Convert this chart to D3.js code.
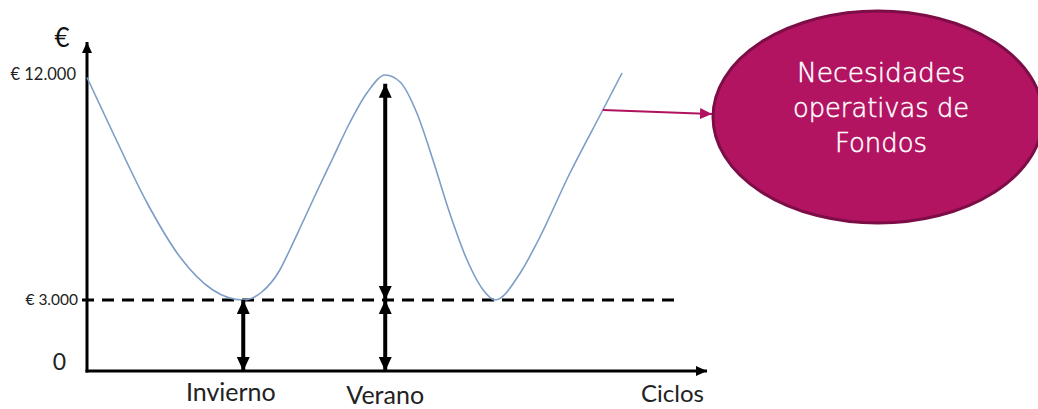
<!DOCTYPE html>
<html>
<head>
<meta charset="utf-8">
<script src="https://cdn.jsdelivr.net/npm/d3@7"></script>
<style>
  html, body { margin: 0; padding: 0; background: #ffffff; }
  svg { display: block; }
</style>
</head>
<body>
<svg id="chart" width="1038" height="409"></svg>
<script>
// ---- data ----
const cycleX = [0, 4.2, 9.7, 15, 20.3, 25.2, 28.1, 31.1, 32.7, 34.4, 37.1, 39.7, 42.4, 45.2, 48.1, 50.5, 53.2, 55.8, 58.5, 61.3, 63.9, 65.8, 69.8, 72.6, 77.9, 83.2, 86.3];
const needs  = [11900, 9680, 6880, 4720, 3400, 3000, 3300, 4200, 5000, 5900, 7350, 8700, 10100, 11300, 12000, 11720, 10480, 8600, 6480, 4600, 3400, 3000, 4050, 5300, 8080, 10600, 12080];
const yTickValues = [0, 3000, 12000];
const yTickLabels = ["0", "€ 3.000", "€ 12.000"];
const permanentLevel = 3000;
const seasonNames = ["Invierno", "Verano"];
const seasonX = [25.2, 48.1];
const seasonLabelX = [23.2, 48.1];
const arrowSpans = [[25.2, 0, 3000], [48.1, 3000, 11650], [48.1, 0, 3000]];
const xAxisTitle = "Ciclos";
const yAxisTitle = "€";
const calloutLines = ["Necesidades", "operativas de", "Fondos"];
const calloutAt = [83.2, 10600];

// ---- scales ----
const svg = d3.select("#chart");
const x = d3.scaleLinear().domain([0, 100]).range([87, 707]);
const y = d3.scaleLinear().domain([0, 3000, 12000]).range([371, 300, 75]);

const defs = svg.append("defs");
function marker(id, color, w, h) {
  defs.append("marker")
    .attr("id", id).attr("markerUnits", "userSpaceOnUse")
    .attr("viewBox", `0 0 ${h} ${w}`)
    .attr("refX", h).attr("refY", w / 2)
    .attr("markerWidth", h).attr("markerHeight", w)
    .attr("orient", "auto-start-reverse")
    .append("path").attr("d", `M0,0L${h},${w / 2}L0,${w}Z`).attr("fill", color);
}
marker("blk", "#000", 13, 14);
marker("axisHead", "#000", 10, 11);
marker("mag", "#b0125f", 11, 12);

const labelFont = "Lato, 'Open Sans', sans-serif";

// ---- axes ----
const axisY = d3.axisLeft(y).tickValues(yTickValues).tickSize(0).tickFormat((d, i) => yTickLabels[i]);
const gAxisY = svg.append("g").attr("transform", `translate(${x(0)},0)`).call(axisY);
gAxisY.select(".domain").remove();
gAxisY.selectAll(".tick text")
  .attr("font-family", labelFont)
  .attr("fill", "#222")
  .attr("font-size", d => d === 0 ? 23 : (d === 12000 ? 16.5 : 15.5))
  .attr("x", d => d === 0 ? -21 : (d === 12000 ? -11 : -9))
  .attr("dy", d => d === 0 ? "-0.05em" : "0.3em");

svg.append("line")
  .attr("x1", x(0)).attr("y1", y(0) + 1.5)
  .attr("x2", x(0)).attr("y2", 42)
  .attr("stroke", "#000").attr("stroke-width", 3)
  .attr("marker-end", "url(#axisHead)");
svg.append("line")
  .attr("x1", x(0) - 1.5).attr("y1", y(0))
  .attr("x2", x(100)).attr("y2", y(0))
  .attr("stroke", "#000").attr("stroke-width", 3)
  .attr("marker-end", "url(#axisHead)");

svg.append("text").text(yAxisTitle)
  .attr("x", 62).attr("y", 47)
  .attr("text-anchor", "middle")
  .attr("font-family", labelFont)
  .attr("font-size", 26).attr("fill", "#111");

svg.append("text").text(xAxisTitle)
  .attr("x", 704).attr("y", 402)
  .attr("text-anchor", "end")
  .attr("font-family", labelFont)
  .attr("font-size", 24).attr("fill", "#222");

svg.selectAll(".season").data(seasonNames).enter().append("text")
  .attr("class", "season")
  .text(d => d)
  .attr("x", (d, i) => x(seasonLabelX[i]))
  .attr("y", (d, i) => i === 0 ? 401 : 404)
  .attr("text-anchor", "middle")
  .attr("font-family", labelFont)
  .attr("font-size", 25).attr("fill", "#222");

// ---- dashed permanent level ----
svg.append("line")
  .attr("x1", x(0) - 5).attr("x2", 679)
  .attr("y1", y(permanentLevel)).attr("y2", y(permanentLevel))
  .attr("stroke", "#000").attr("stroke-width", 3)
  .attr("stroke-dasharray", "12,8");

// ---- curve ----
const pts = cycleX.map((c, i) => [c, needs[i]]);
svg.append("path")
  .datum(pts)
  .attr("d", d3.line().x(d => x(d[0])).y(d => y(d[1])).curve(d3.curveMonotoneX))
  .attr("fill", "none").attr("stroke", "#7d9dc7").attr("stroke-width", 1.6);

// ---- double arrows ----
svg.selectAll(".dbl").data(arrowSpans).enter().append("line")
  .attr("class", "dbl")
  .attr("x1", d => x(d[0])).attr("x2", d => x(d[0]))
  .attr("y1", d => y(d[1])).attr("y2", d => y(d[2]))
  .attr("stroke", "#000").attr("stroke-width", 4)
  .attr("marker-start", "url(#blk)")
  .attr("marker-end", "url(#blk)");

// ---- callout ----
const ell = { cx: 878, cy: 117, rx: 165, ry: 106 };
svg.append("line")
  .attr("x1", x(calloutAt[0])).attr("y1", y(calloutAt[1]))
  .attr("x2", ell.cx - ell.rx - 1).attr("y2", 114)
  .attr("stroke", "#b0125f").attr("stroke-width", 2)
  .attr("marker-end", "url(#mag)");

svg.append("ellipse")
  .attr("cx", ell.cx).attr("cy", ell.cy).attr("rx", ell.rx).attr("ry", ell.ry)
  .attr("fill", "#b31462").attr("stroke", "#7c0d46").attr("stroke-width", 3);

const calloutWidths = [168, 176, 92];
svg.selectAll(".callout").data(calloutLines).enter().append("text")
  .attr("class", "callout")
  .text(d => d)
  .attr("x", 881)
  .attr("y", (d, i) => 82 + i * 35)
  .attr("text-anchor", "middle")
  .attr("font-family", "'DejaVu Sans', sans-serif")
  .attr("font-weight", 200)
  .attr("font-size", 26)
  .attr("fill", "#ffffff")
  .attr("stroke", "#ffffff").attr("stroke-width", 0.5)
  .attr("textLength", (d, i) => calloutWidths[i])
  .attr("lengthAdjust", "spacingAndGlyphs");
</script>
</body>
</html>
